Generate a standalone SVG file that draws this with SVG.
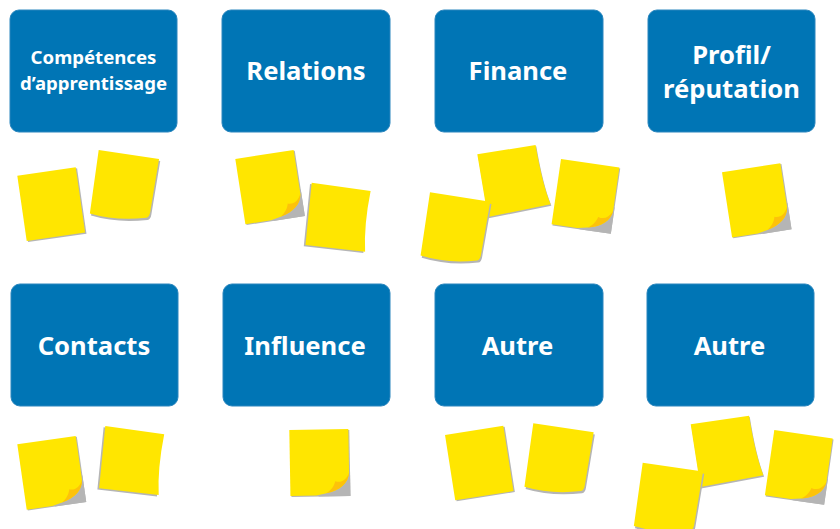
<svg xmlns="http://www.w3.org/2000/svg" xmlns:xlink="http://www.w3.org/1999/xlink" width="840" height="529" viewBox="0 0 840 529">
<style>
.box{fill:#0075B5;stroke:#2A86BE;stroke-width:1}
.lbl{font-family:"Noto Sans","Open Sans","Liberation Sans",sans-serif;font-weight:700;fill:#FFFFFF;text-anchor:middle}
.big{font-size:25.6px}
.small{font-size:18.6px}
.ye{fill:#FFE600}
.sh{fill:#B5B5B5}
.cu{fill:#FDC20A}
</style>
<defs>
<g id="noteA">
<rect class="sh" x="1.2" y="1.2" width="59" height="66"/>
<rect class="ye" x="0" y="0" width="59" height="66"/>
</g>
<g id="noteB">
<path class="sh" transform="translate(1.5,2)" d="M0,0 L61,0 L60,54 Q60,59 57,60 Q28,68 0.5,64 Z"/>
<path class="ye" d="M0,0 L61,0 L60,54 Q60,59 57,60 Q28,68 0.5,64 Z"/>
</g>
<g id="noteC">
<rect class="sh" x="1" y="1" width="59" height="66"/>
<path class="sh" d="M28,67 L60,67 L60,40 Z"/>
<path class="ye" d="M0,0 H59 V44 C58,54 50,61 36,64 L26,66 H0 Z"/>
<path class="cu" d="M59,44 C58,54 50,61 36,64 C42,60 44,56 45,52 C51,54 56,51 59,44 Z"/>
</g>
<g id="noteD1">
<path class="sh" transform="translate(0.5,1.5)" d="M0,0 L59,0 Q59.5,40 64.5,61 L0.5,63.5 Z"/>
<path class="ye" d="M0,0 L59,0 Q59.5,40 64.5,61 L0.5,63.5 Z"/>
</g>
<g id="noteD2">
<path class="sh" transform="translate(-1.5,1.5)" d="M0,0 L59.5,0 Q57.5,35 62.5,61 L2.5,62.5 Z"/>
<path class="ye" d="M0,0 L59.5,0 Q57.5,35 62.5,61 L2.5,62.5 Z"/>
</g>
</defs>
<g id="connectors"></g>
<g id="node-competences">
<rect class="box" x="10" y="10" width="167" height="122" rx="9"/>
<text class="lbl small" x="93.5" y="63.5">Compétences</text>
<text class="lbl small" x="93.5" y="90">d’apprentissage</text>
</g>
<g id="node-relations">
<rect class="box" x="222" y="10" width="168" height="122" rx="9"/>
<text class="lbl big" x="306" y="80">Relations</text>
</g>
<g id="node-finance">
<rect class="box" x="435" y="10" width="168" height="122" rx="9"/>
<text class="lbl big" x="518" y="80">Finance</text>
</g>
<g id="node-profil">
<rect class="box" x="648" y="10" width="167" height="122" rx="9"/>
<text class="lbl big" x="731.5" y="63.5">Profil/</text>
<text class="lbl big" x="731.5" y="98">réputation</text>
</g>
<g id="node-contacts">
<rect class="box" x="11" y="284" width="167" height="122" rx="9"/>
<text class="lbl big" x="94" y="354.5">Contacts</text>
</g>
<g id="node-influence">
<rect class="box" x="223" y="284" width="167" height="122" rx="9"/>
<text class="lbl big" x="305" y="354.5">Influence</text>
</g>
<g id="node-autre1">
<rect class="box" x="435" y="284" width="168" height="122" rx="9"/>
<text class="lbl big" x="517.5" y="354.5">Autre</text>
</g>
<g id="node-autre2">
<rect class="box" x="647" y="284" width="167" height="122" rx="9"/>
<text class="lbl big" x="729.5" y="354.5">Autre</text>
</g>
<g id="notes">
<use xlink:href="#noteA" transform="translate(17.3,175.7) rotate(-8.2)"/>
<use xlink:href="#noteB" transform="translate(98.7,150) rotate(8.4)"/>
<use xlink:href="#noteC" transform="translate(235.3,159) rotate(-8.8)"/>
<use xlink:href="#noteD2" transform="translate(311.7,182.7) rotate(8)"/>
<use xlink:href="#noteD1" transform="translate(477.3,154.3) rotate(-9.1)"/>
<use xlink:href="#noteB" transform="translate(430,192.3) rotate(8.9)"/>
<use xlink:href="#noteC" transform="translate(561,159) rotate(8.2)"/>
<use xlink:href="#noteC" transform="translate(722,172.3) rotate(-8.8)"/>
<use xlink:href="#noteC" transform="translate(17.3,444.3) rotate(-8.2)"/>
<use xlink:href="#noteD2" transform="translate(105.3,426) rotate(8)"/>
<use xlink:href="#noteC" transform="translate(289.3,430) rotate(-1)"/>
<use xlink:href="#noteA" transform="translate(445,435) rotate(-8.9)"/>
<use xlink:href="#noteB" transform="translate(533.3,423.3) rotate(8.4)"/>
<use xlink:href="#noteD1" transform="translate(690.7,424.3) rotate(-8.4)"/>
<use xlink:href="#noteB" transform="translate(642.7,462.7) rotate(8.4)"/>
<use xlink:href="#noteC" transform="translate(774.3,430) rotate(8.2)"/>
</g>
</svg>
